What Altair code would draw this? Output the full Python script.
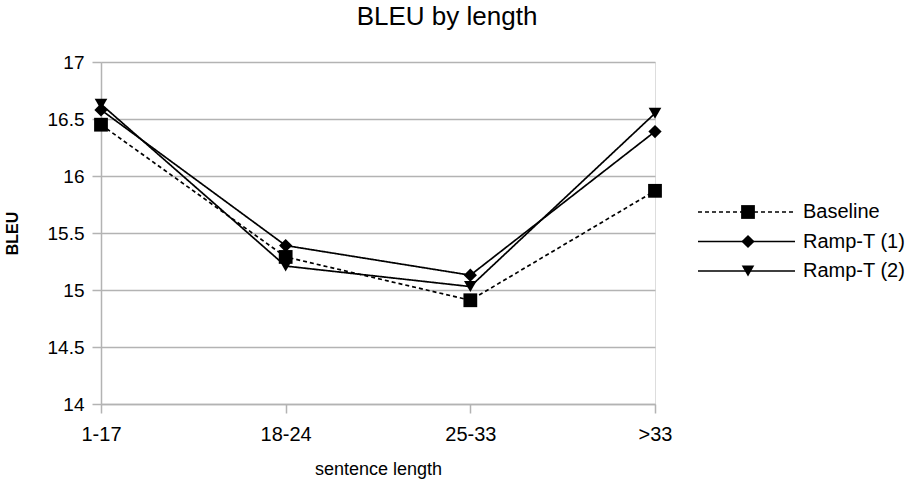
import altair as alt
import pandas as pd

categories = ["1-17", "18-24", "25-33", ">33"]
series_names = ["Baseline", "Ramp-T (1)", "Ramp-T (2)"]
baseline = [16.45, 15.29, 14.91, 15.87]
ramp_t1 = [16.58, 15.39, 15.13, 16.39]
ramp_t2 = [16.63, 15.21, 15.03, 16.55]
y_ticks = [14, 14.5, 15, 15.5, 16, 16.5, 17]

rows = []
for name, vals in zip(series_names, [baseline, ramp_t1, ramp_t2]):
    for c, v in zip(categories, vals):
        rows.append({"length": c, "series": name, "bleu": v})
df = pd.DataFrame(rows)
legend_df = pd.DataFrame({"series": series_names, "row": list(range(len(series_names)))})

FONT = "Liberation Sans"
GRID = "#b3b3b3"

dash_scale = alt.Scale(domain=series_names, range=[[4, 3], [1, 0], [1, 0]])
shape_scale = alt.Scale(domain=series_names, range=["square", "diamond", "triangle-down"])
size_scale = alt.Scale(domain=series_names, range=[190, 160, 210])

x_enc = alt.X("length:N", sort=categories, scale=alt.Scale(padding=0),
              axis=alt.Axis(title="sentence length", labelAngle=0, grid=False,
                            tickSize=9, tickColor=GRID, domainColor=GRID,
                            labelPadding=11, labelFontSize=20, labelFont=FONT,
                            labelColor="#000", titleFont=FONT, titleFontSize=18,
                            titleFontWeight="normal", titleColor="#000",
                            titleY=56, titleBaseline="top", tickWidth=1.5,
                            domainWidth=1.5))
y_enc = alt.Y("bleu:Q", scale=alt.Scale(domain=[14, 17], nice=False, zero=False),
              axis=alt.Axis(title="BLEU", values=y_ticks, format=".1~f",
                            tickSize=9, tickColor=GRID, domainColor=GRID,
                            gridColor=GRID, gridWidth=1.5, tickWidth=1.5,
                            domainWidth=1.5, labelPadding=8,
                            labelFontSize=19, labelFont=FONT, labelColor="#000",
                            titleFont=FONT, titleFontSize=16, titleFontWeight="bold",
                            titleColor="#000", titleX=-89, titleY=171,
                            titleAngle=-90, titleAlign="center",
                            titleBaseline="middle"))

lines = alt.Chart(df).mark_line(color="black", strokeWidth=1.7).encode(
    x=x_enc, y=y_enc,
    strokeDash=alt.StrokeDash("series:N", scale=dash_scale, legend=None),
    detail="series:N",
)
points = alt.Chart(df).mark_point(filled=True, color="black", opacity=1).encode(
    x=alt.X("length:N", sort=categories),
    y=alt.Y("bleu:Q"),
    shape=alt.Shape("series:N", scale=shape_scale, legend=None),
    size=alt.Size("series:N", scale=size_scale, legend=None),
)
main = alt.layer(lines, points)

leg_y = alt.Y("row:Q", scale=alt.Scale(domain=[0, 2], range=[150, 209], nice=False, zero=False),
              axis=None)
leg_lines = alt.Chart(legend_df).mark_rule(color="black", strokeWidth=1.7).encode(
    x=alt.value(597), x2=alt.value(694), y=leg_y,
    strokeDash=alt.StrokeDash("series:N", scale=dash_scale, legend=None),
)
leg_points = alt.Chart(legend_df).mark_point(filled=True, color="black", opacity=1).encode(
    x=alt.value(647), y=leg_y,
    shape=alt.Shape("series:N", scale=shape_scale, legend=None),
    size=alt.Size("series:N", scale=size_scale, legend=None),
)
leg_text = alt.Chart(legend_df).mark_text(align="left", baseline="middle",
                                          font=FONT, fontSize=20, color="#000").encode(
    x=alt.value(702), y=leg_y, text="series:N",
)
legend = alt.layer(leg_lines, leg_points, leg_text)

chart = alt.layer(main, legend).resolve_scale(
    y="independent"
).properties(
    width=554, height=342,
    title=alt.TitleParams("BLEU by length", font=FONT, fontSize=26,
                          fontWeight="normal", color="#000", anchor="middle",
                          frame="group", baseline="alphabetic", offset=2, dx=69),
    autosize=alt.AutoSizeParams(type="none"),
    padding={"left": 101, "top": 62, "right": 255, "bottom": 80},
).configure_view(stroke=GRID, strokeWidth=1.5).configure(background="white")

chart.save("out.html", embed_options={"renderer": "svg", "actions": False})
